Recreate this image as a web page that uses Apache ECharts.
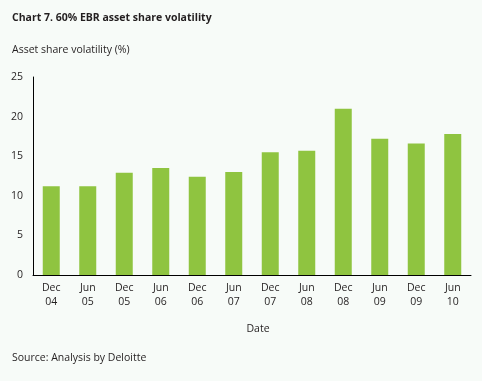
<!DOCTYPE html>
<html><head><meta charset="utf-8">
<script src="https://cdn.jsdelivr.net/npm/echarts@6/dist/echarts.min.js"></script>
<style>html,body{margin:0;padding:0;background:#f7fbf8;}#c{width:482px;height:381px;}</style>
</head><body><div id="c"></div>
<script>
var categories = ['Dec\n04','Jun\n05','Dec\n05','Jun\n06','Dec\n06','Jun\n07','Dec\n07','Jun\n08','Dec\n08','Jun\n09','Dec\n09','Jun\n10'];
var volatility = [11.2, 11.2, 12.9, 13.5, 12.4, 13.0, 15.5, 15.7, 21.0, 17.2, 16.6, 17.8];
var yTicks = [0, 5, 10, 15, 20, 25];
var FONT = '"Open Sans", "Noto Sans", sans-serif';
var chart = echarts.init(document.getElementById('c'), null, {renderer:'canvas'});
chart.setOption({
  backgroundColor: '#f7fbf8',
  animation: false,
  title: [
    {text: 'Chart 7. 60% EBR asset share volatility', left: 7, top: 8, textStyle: {fontFamily: FONT, fontSize: 10.5, fontWeight: 'bold', color: '#231f20'}},
    {text: 'Asset share volatility (%)', left: 7, top: 40, textStyle: {fontFamily: FONT, fontSize: 10.5, fontWeight: 'normal', color: '#231f20'}},
    {text: 'Date', left: 253, top: 319, textAlign: 'center', textStyle: {fontFamily: FONT, fontSize: 10.5, fontWeight: 'normal', color: '#231f20'}},
    {text: 'Source: Analysis by Deloitte', left: 7, top: 348, textStyle: {fontFamily: FONT, fontSize: 10.5, fontWeight: 'normal', color: '#231f20'}}
  ],
  grid: {left: 33, right: 11, top: 77, bottom: 106, containLabel: false},
  xAxis: {
    type: 'category', data: categories,
    axisLine: {lineStyle: {color: '#000', width: 1}},
    axisTick: {show: false},
    axisLabel: {fontFamily: FONT, fontSize: 10.5, color: '#231f20', lineHeight: 14, margin: 6, interval: 0}
  },
  yAxis: {
    type: 'value', min: yTicks[0], max: yTicks[yTicks.length-1], interval: 5,
    axisLine: {show: true, lineStyle: {color: '#000', width: 1}},
    axisTick: {show: false},
    splitLine: {show: false},
    axisLabel: {fontFamily: FONT, fontSize: 10.5, color: '#231f20', margin: 10}
  },
  series: [{
    type: 'bar', data: volatility, barWidth: 17,
    itemStyle: {color: '#8fc440'}
  }]
});
</script></body></html>
